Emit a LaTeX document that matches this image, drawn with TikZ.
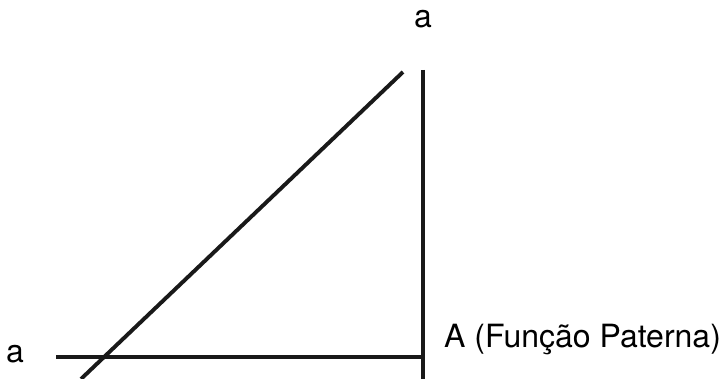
\documentclass[tikz,border=0pt]{standalone}
\usepackage{fontspec}
\setmainfont{TeX Gyre Heros}
\usepackage{tikz}
\usetikzlibrary{positioning}
\tikzset{
  axis/.style  = {line width=3.9pt, black!90},
  lbl/.style   = {font=\fontsize{32}{36}\selectfont, inner sep=0pt, anchor=base},
}
\begin{document}
\begin{tikzpicture}[x=1pt, y=-1pt]
  \useasboundingbox (0,0) rectangle (720,379);
  % line end points
  \coordinate (vtop) at (423,70);
  \coordinate (vbot) at (423,379);
  \coordinate (hleft) at (56,357);
  \coordinate (hright) at (423,357);
  \coordinate (dtop) at (403,72);
  \coordinate (dbot) at (81,379);
  % labels
  \node[lbl] (atop) at (423,28) {a};
  \node[lbl] (aleft) at (15,362) {a};
  \node[lbl, anchor=base west] (apat) at (444,347) {A (Função Paterna)};
  % lines
  \draw[axis] (vtop) -- (vbot);
  \draw[axis] (hleft) -- (hright);
  \draw[axis] (dtop) -- (dbot);
\end{tikzpicture}
\end{document}
